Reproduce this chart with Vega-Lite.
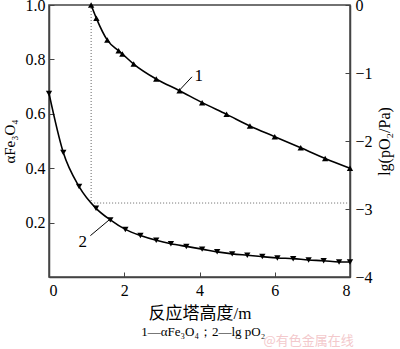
{
  "$schema": "https://vega.github.io/schema/vega-lite/v6.json",
  "width": 301,
  "height": 272,
  "autosize": {"type": "none"},
  "padding": {"left": 49, "top": 5, "right": 50, "bottom": 72},
  "background": "white",
  "config": {
    "font": "Liberation Serif",
    "view": {"stroke": "#444", "strokeWidth": 1.5},
    "axis": {
      "grid": false,
      "domainColor": "#444",
      "domainWidth": 1.5,
      "tickColor": "#444",
      "tickWidth": 1,
      "tickSize": -5,
      "labelFont": "Liberation Serif",
      "labelFontSize": 16,
      "labelColor": "black",
      "titleFont": "Liberation Serif",
      "titleFontWeight": "normal",
      "titleColor": "black"
    }
  },
  "datasets": {
    "alpha": [
      {"h": 1.12, "v": 1.0},
      {"h": 1.26, "v": 0.951},
      {"h": 1.55, "v": 0.871},
      {"h": 1.85, "v": 0.832},
      {"h": 1.95, "v": 0.82},
      {"h": 2.25, "v": 0.783},
      {"h": 2.85, "v": 0.728},
      {"h": 3.47, "v": 0.685},
      {"h": 4.07, "v": 0.641},
      {"h": 4.72, "v": 0.598},
      {"h": 5.34, "v": 0.555},
      {"h": 6.0, "v": 0.516},
      {"h": 6.69, "v": 0.475},
      {"h": 7.34, "v": 0.436},
      {"h": 8.0, "v": 0.4}
    ],
    "lgp": [
      {"h": 0.0, "v": -1.3},
      {"h": 0.38, "v": -2.17},
      {"h": 0.8, "v": -2.67},
      {"h": 1.25, "v": -2.99},
      {"h": 1.63, "v": -3.16},
      {"h": 2.03, "v": -3.3},
      {"h": 2.43, "v": -3.39},
      {"h": 2.85, "v": -3.46},
      {"h": 3.24, "v": -3.51},
      {"h": 3.65, "v": -3.55},
      {"h": 4.07, "v": -3.59},
      {"h": 4.47, "v": -3.63},
      {"h": 4.87, "v": -3.66},
      {"h": 5.27, "v": -3.68},
      {"h": 5.67, "v": -3.7},
      {"h": 6.07, "v": -3.72},
      {"h": 6.49, "v": -3.73},
      {"h": 6.9, "v": -3.75},
      {"h": 7.3, "v": -3.76},
      {"h": 7.71, "v": -3.78},
      {"h": 8.0, "v": -3.78}
    ],
    "guides": [
      {"x1": 1.12, "x2": 1.12, "y1": 1.0, "y2": 0.272},
      {"x1": 1.12, "x2": 8.0, "y1": 0.272, "y2": 0.272}
    ],
    "leaders": [
      {"x1": 3.47, "x2": 3.8, "y1": 0.687, "y2": 0.736},
      {"x1": 1.1, "x2": 1.6, "y1": 0.152, "y2": 0.21}
    ],
    "labels": [
      {"x": 3.98, "y": 0.738, "t": "1"},
      {"x": 0.9, "y": 0.13, "t": "2"}
    ],
    "notes": [
      {"x": 4.1, "y": -0.202, "t": "1—αFe₃O₄；2—lg pO₂", "kind": "caption"},
      {"x": 6.9, "y": -0.235, "t": "@有色金属在线", "kind": "watermark"}
    ]
  },
  "layer": [
    {
      "layer": [
        {
          "data": {"name": "guides"},
          "mark": {"type": "rule", "color": "#666", "strokeWidth": 1, "strokeDash": [1, 2]},
          "encoding": {
            "x": {"field": "x1", "type": "quantitative"},
            "x2": {"field": "x2"},
            "y": {"field": "y1", "type": "quantitative"},
            "y2": {"field": "y2"}
          }
        },
        {
          "data": {"name": "leaders"},
          "mark": {"type": "rule", "color": "black", "strokeWidth": 1},
          "encoding": {
            "x": {"field": "x1", "type": "quantitative"},
            "x2": {"field": "x2"},
            "y": {"field": "y1", "type": "quantitative"},
            "y2": {"field": "y2"}
          }
        },
        {
          "data": {"name": "labels"},
          "mark": {"type": "text", "fontSize": 17, "font": "Liberation Serif", "color": "black"},
          "encoding": {
            "x": {"field": "x", "type": "quantitative"},
            "y": {"field": "y", "type": "quantitative"},
            "text": {"field": "t"}
          }
        },
        {
          "data": {"name": "notes"},
          "transform": [{"filter": "datum.kind === 'caption'"}],
          "mark": {"type": "text", "fontSize": 13, "font": "Liberation Serif", "color": "black", "clip": false},
          "encoding": {
            "x": {"field": "x", "type": "quantitative"},
            "y": {"field": "y", "type": "quantitative"},
            "text": {"field": "t"}
          }
        },
        {
          "data": {"name": "notes"},
          "transform": [{"filter": "datum.kind === 'watermark'"}],
          "mark": {"type": "text", "fontSize": 13, "font": "Noto Sans CJK SC", "color": "#f3c9cc", "clip": false},
          "encoding": {
            "x": {"field": "x", "type": "quantitative"},
            "y": {"field": "y", "type": "quantitative"},
            "text": {"field": "t"}
          }
        },
        {
          "data": {"name": "alpha"},
          "mark": {"type": "line", "color": "black", "strokeWidth": 1.6, "interpolate": "monotone"},
          "encoding": {
            "x": {
              "field": "h", "type": "quantitative",
              "scale": {"domain": [0, 8], "nice": false},
              "axis": {
                "title": "反应塔高度/m",
                "titleFont": "Liberation Serif, Noto Sans CJK SC",
                "titleFontSize": 17,
                "titlePadding": 7,
                "values": [0, 2, 4, 6, 8],
                "format": "d",
                "labelPadding": 10
              }
            },
            "y": {
              "field": "v", "type": "quantitative",
              "scale": {"domain": [0, 1], "nice": false},
              "axis": {
                "title": "αFe₃O₄",
                "titleFontSize": 15,
                "titlePadding": 8,
                "values": [0.2, 0.4, 0.6, 0.8, 1.0],
                "format": ".1f",
                "labelPadding": 9
              }
            }
          }
        },
        {
          "data": {"name": "alpha"},
          "mark": {"type": "point", "shape": "triangle-up", "filled": true, "color": "black", "size": 40, "opacity": 1},
          "encoding": {
            "x": {"field": "h", "type": "quantitative"},
            "y": {"field": "v", "type": "quantitative"}
          }
        }
      ]
    },
    {
      "layer": [
        {
          "data": {"name": "lgp"},
          "mark": {"type": "line", "color": "black", "strokeWidth": 1.6, "interpolate": "monotone"},
          "encoding": {
            "x": {"field": "h", "type": "quantitative"},
            "y": {
              "field": "v", "type": "quantitative",
              "scale": {"domain": [-4, 0], "nice": false},
              "axis": {
                "orient": "right",
                "title": "lg(pO₂/Pa)",
                "titleFontSize": 16,
                "titleAngle": 270,
                "titlePadding": 20,
                "values": [-4, -3, -2, -1, 0],
                "format": "d",
                "labelPadding": 10
              }
            }
          }
        },
        {
          "data": {"name": "lgp"},
          "mark": {"type": "point", "shape": "triangle-down", "filled": true, "color": "black", "size": 40, "opacity": 1},
          "encoding": {
            "x": {"field": "h", "type": "quantitative"},
            "y": {"field": "v", "type": "quantitative"}
          }
        }
      ]
    }
  ],
  "resolve": {"scale": {"y": "independent"}}
}
